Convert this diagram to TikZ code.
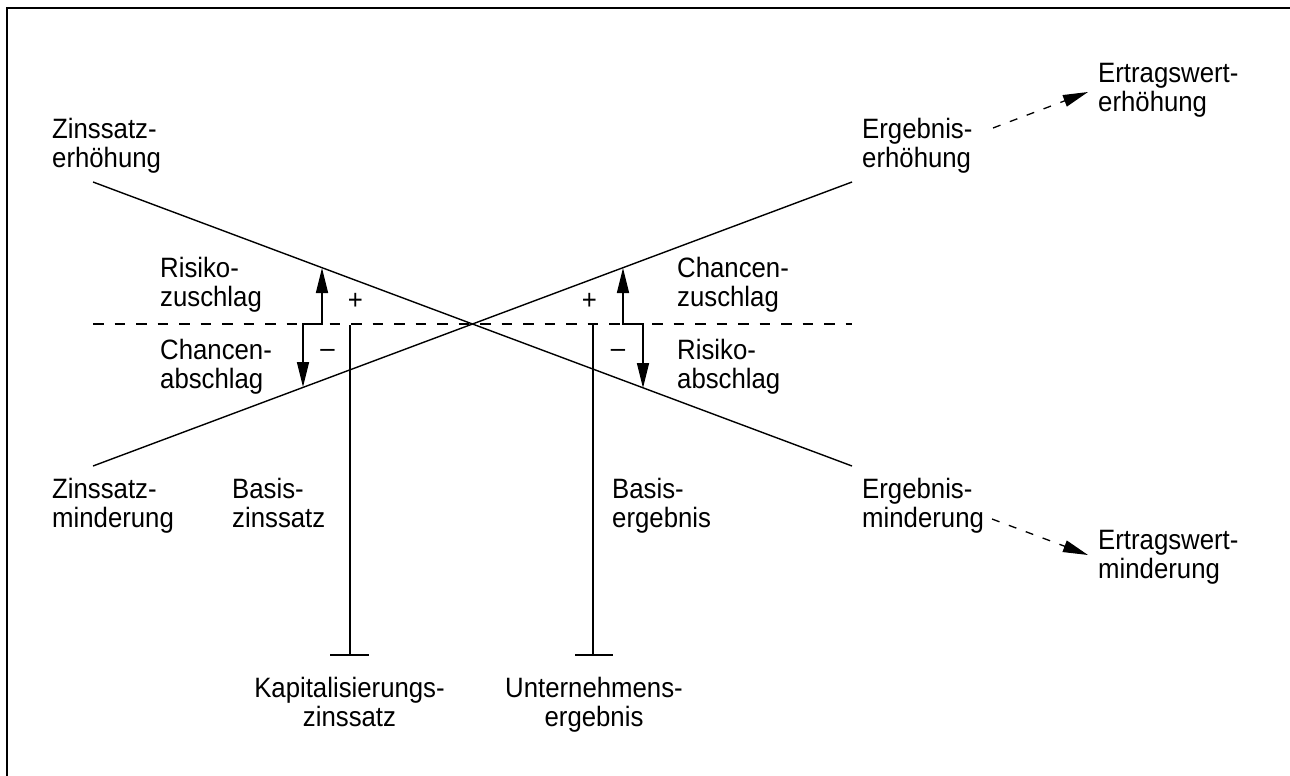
\documentclass[tikz,border=0pt]{standalone}
\usepackage{fontspec}
\setmainfont{Liberation Sans}[FakeStretch=0.92]
\usetikzlibrary{arrows.meta}
\tikzset{Tp/.tip={Triangle[length=25pt,width=12pt]}}
\begin{document}
\begin{tikzpicture}[x=1pt,y=-1pt,
  lbl/.style={font=\fontsize{28}{29}\selectfont, align=left, inner sep=0pt, anchor=base west},
  lblc/.style={font=\fontsize{28}{29}\selectfont, align=center, inner sep=0pt, anchor=base},
  sgn/.style={font=\fontsize{28}{28}\selectfont, inner sep=0pt},
  ln/.style={line width=1.4pt},
  frame/.style={line width=2pt},
  hdash/.style={line width=1.3pt, dash pattern=on 10.5pt off 11pt},
  adash/.style={line width=1.3pt, dash pattern=on 8pt off 10pt}
]
\useasboundingbox (0,0) rectangle (1290,776);
% frame
\draw[frame] (7,776) -- (7,8) -- (1290,8);

% coordinates
\coordinate (a1) at (93,182);
\coordinate (a2) at (852,466);
\coordinate (b1) at (93,466);
\coordinate (b2) at (852,182);
\coordinate (d1) at (93,324);
\coordinate (d2) at (852,324);

% crossing lines and dashed base
\draw[ln] (a1) -- (a2);
\draw[ln] (b1) -- (b2);
\draw[hdash] (d1) -- (d2);

% vertical lines with tee
\coordinate (v1t) at (350,325);
\coordinate (v1b) at (350,655);
\coordinate (t1l) at (330,655);
\coordinate (t1r) at (369,655);
\coordinate (v2t) at (593,325);
\coordinate (v2b) at (593,655);
\coordinate (t2l) at (575,655);
\coordinate (t2r) at (613,655);
\draw[ln] (v1t) -- (v1b);
\draw[ln] (t1l) -- (t1r);
\draw[ln] (v2t) -- (v2b);
\draw[ln] (t2l) -- (t2r);

% left arrows
\coordinate (lu) at (322,268);
\coordinate (lc1) at (322,324);
\coordinate (lc2) at (303,324);
\coordinate (ld) at (303,387);
\draw[ln, Tp-Tp] (lu) -- (lc1) -- (lc2) -- (ld);

% right arrows
\coordinate (ru) at (623,268);
\coordinate (rc1) at (623,324);
\coordinate (rc2) at (643,324);
\coordinate (rd) at (643,388);
\draw[ln, Tp-Tp] (ru) -- (rc1) -- (rc2) -- (rd);

% signs
\node[sgn] (pl) at (355.5,301.5) {+};
\node[sgn] (ml) at (327.5,353) {–};
\node[sgn] (pr) at (589.5,301.5) {+};
\node[sgn] (mr) at (618,353) {–};

% labels (base anchor = baseline of the second line)
\node[lbl] (zer) at (52,167) {Zinssatz-\\erhöhung};
\node[lbl] (zmi) at (52,527) {Zinssatz-\\minderung};
\node[lbl] (rzu) at (160,306) {Risiko-\\zuschlag};
\node[lbl] (cab) at (160,388) {Chancen-\\abschlag};
\node[lbl] (bzi) at (232,527) {Basis-\\zinssatz};
\node[lbl] (czu) at (677,306) {Chancen-\\zuschlag};
\node[lbl] (rab) at (677,388) {Risiko-\\abschlag};
\node[lbl] (ber) at (612,527) {Basis-\\ergebnis};
\node[lbl] (eer) at (862,167) {Ergebnis-\\erhöhung};
\node[lbl] (emi) at (862,527) {Ergebnis-\\minderung};
\node[lbl] (wer) at (1098,111) {Ertragswert-\\erhöhung};
\node[lbl] (wmi) at (1098,578) {Ertragswert-\\minderung};
\node[lblc] (kap) at (349.5,726) {Kapitalisierungs-\\zinssatz};
\node[lblc] (unt) at (594,726) {Unternehmens-\\ergebnis};

% dashed arrows
\coordinate (ea1) at (993,128);
\coordinate (ea2) at (1088,92);
\coordinate (eb1) at (992,519);
\coordinate (eb2) at (1088,555);
\draw[adash, -Tp] (ea1) -- (ea2);
\draw[adash, -Tp] (eb1) -- (eb2);
\end{tikzpicture}
\end{document}
